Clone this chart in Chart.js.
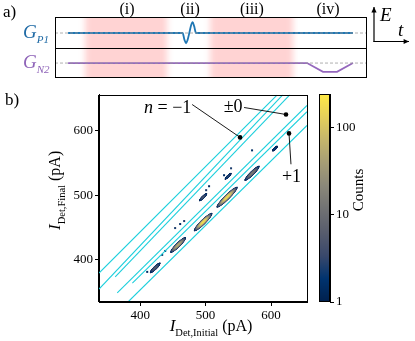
<!DOCTYPE html>
<html lang="en">
<head>
<meta charset="UTF-8">
<title>Detector current histogram</title>
<style>
    body { margin: 0; background: #fff; }
    #wrap { position: relative; width: 415px; height: 341px; overflow: hidden; }
    canvas { position: absolute; }
</style>
</head>
<body>
<div id="wrap">
    <canvas id="histChart" width="415" height="256" style="left:0;top:85px"></canvas>
    <canvas id="cbarChart" width="106" height="228" style="left:309px;top:84px"></canvas>
    <canvas id="pulseChart" width="415" height="88" style="left:0;top:0"></canvas>
</div>
<script src="https://cdn.jsdelivr.net/npm/chart.js"></script>
<script>
// ---- panel a: gate sequence (time in arbitrary units 0-100) ----
const stageLabels = ['(i)', '(ii)', '(iii)', '(iv)'];
const stageTimes = [23.1, 43.3, 63.1, 87.5];
const shadeStart = [9.6, 49.7];
const shadeEnd = [35.9, 76.3];
const gp1Time = [4.2, 40.9, 41.5, 42.0, 42.5, 43.05, 43.6, 44.1, 44.6, 45.2, 95.5];
const gp1Level = [1.475, 1.475, 1.25, 1.14, 1.25, 1.475, 1.72, 1.83, 1.7, 1.475, 1.475];
const gn2Time = [4.2, 80.8, 85.9, 90.4, 95.5];
const gn2Level = [0.49, 0.49, 0.2, 0.2, 0.49];
const gp1Rest = 1.475;
const gn2Rest = 0.49;

// ---- panel b: 2D histogram of detector current (pA) ----
const xTicks = [400, 500, 600];
const yTicks = [400, 500, 600];
const countTicks = [1, 10, 100];
const countMax = 245;
// clusters: centre, peak counts, half extent along diagonal and across (pA)
const clusterInitial = [422.9, 458.0, 496.2, 532.8, 571.0, 606.0, 496.2, 534.4];
const clusterFinal   = [387.7, 423.1, 458.5, 496.9, 533.8, 572.0, 496.9, 529.2];
const clusterPeak    = [6, 60, 220, 200, 15, 2, 5, 3];
const clusterLength  = [8, 12, 14, 16, 11.5, 4, 6, 5];
const clusterWidth   = [1.9, 2.4, 2.7, 2.7, 2.2, 1.4, 1.4, 1.3];
// isolated bins
const binInitial = [433.6, 438.2, 453.4, 461.1, 467.2, 500.8, 505.3, 528.2, 538.9, 571.0, 410.7];
const binFinal   = [407.7, 413.8, 449.2, 455.4, 460.0, 507.7, 513.8, 530.8, 541.5, 569.2, 381.5];
const binCount   = [2, 1, 2, 1, 2, 2, 1, 1, 2, 1, 1];
// region contours (initial, final)
const contourA = [[337, 379.6], [609.5, 655]];
const contourB = [[337, 355], [618.3, 655.4]];
const contourC = [[361.8, 373.8], [629, 655.4]];
const contourD = [[364.9, 349.2], [655, 638.5]];
const contourE = [[388, 364], [655, 629]];
const contourF = [[381.7, 335.4], [655, 607.7]];
// annotations: text centre, leader start, dot
const annText  = ['n', '±0', '+1'];
const annTextX = [442, 542, 631.3];
const annTextY = [635.4, 637, 529.2];
const annLeadX = [479.4, 558.8, 630.5];
const annLeadY = [640, 635.4, 547.7];
const annDotX  = [552.7, 622.9, 627.5];
const annDotY  = [589.2, 624.6, 595.4];

const SERIF = '"Liberation Serif", "DejaVu Serif", serif';
Chart.defaults.font.family = SERIF;
Chart.defaults.color = '#000';

const cividis = ['#00204d', '#00336f', '#39486b', '#575c6d', '#707173',
                 '#8a8779', '#a69d75', '#c4b56c', '#e4cf5b', '#ffea46'];

function hexRgb(h) {
    return [parseInt(h.slice(1, 3), 16), parseInt(h.slice(3, 5), 16), parseInt(h.slice(5, 7), 16)];
}

function countColour(c) {
    const t = Math.min(1, Math.max(0, Math.log10(c) / Math.log10(countMax)));
    const p = t * (cividis.length - 1);
    const i = Math.min(Math.floor(p), cividis.length - 2);
    const f = p - i;
    const a = hexRgb(cividis[i]), b = hexRgb(cividis[i + 1]);
    return 'rgb(' + a.map((v, k) => Math.round(v + (b[k] - v) * f)).join(',') + ')';
}

// draw a run of text pieces [text, font, dy]
function drawRich(ctx, parts, x, y, align) {
    let w = 0;
    parts.forEach(p => { ctx.font = p[1]; w += ctx.measureText(p[0]).width; });
    let cx = align === 'center' ? x - w / 2 : x;
    ctx.textAlign = 'left';
    ctx.textBaseline = 'alphabetic';
    parts.forEach(p => {
        ctx.font = p[1];
        ctx.fillText(p[0], cx, y + (p[2] || 0));
        cx += ctx.measureText(p[0]).width;
    });
}

function arrow(ctx, x0, y0, x1, y1) {
    const ang = Math.atan2(y1 - y0, x1 - x0);
    ctx.beginPath();
    ctx.moveTo(x0, y0);
    ctx.lineTo(x1, y1);
    ctx.stroke();
    ctx.beginPath();
    ctx.moveTo(x1, y1);
    ctx.lineTo(x1 - 6 * Math.cos(ang - 0.45), y1 - 6 * Math.sin(ang - 0.45));
    ctx.lineTo(x1 - 6 * Math.cos(ang + 0.45), y1 - 6 * Math.sin(ang + 0.45));
    ctx.closePath();
    ctx.fill();
}

// ---------- panel a ----------
const pulseDecor = {
    id: 'pulseDecor',
    beforeDatasetsDraw(chart) {
        const { ctx, chartArea: a, scales: { x } } = chart;
        ctx.save();
        ctx.beginPath();
        ctx.rect(a.left, a.top, a.right - a.left, a.bottom - a.top);
        ctx.clip();
        ctx.filter = 'blur(3px)';
        ctx.fillStyle = 'rgba(255, 150, 150, 0.42)';
        shadeStart.forEach((s, i) => {
            const x0 = x.getPixelForValue(s), x1 = x.getPixelForValue(shadeEnd[i]);
            ctx.fillRect(x0, a.top - 10, x1 - x0, a.bottom - a.top + 20);
        });
        ctx.restore();
    },
    afterDraw(chart) {
        const { ctx, chartArea: a, scales: { x, y } } = chart;
        ctx.save();
        ctx.strokeStyle = '#000';
        ctx.lineWidth = 1;
        ctx.strokeRect(a.left + 0.5, a.top + 0.5, a.right - a.left - 1, a.bottom - a.top - 1);
        const mid = Math.round(y.getPixelForValue(1)) + 0.5;
        ctx.beginPath();
        ctx.moveTo(a.left, mid);
        ctx.lineTo(a.right, mid);
        ctx.stroke();

        ctx.fillStyle = '#000';
        ctx.font = '16px ' + SERIF;
        ctx.textAlign = 'center';
        ctx.textBaseline = 'alphabetic';
        stageLabels.forEach((t, i) => ctx.fillText(t, x.getPixelForValue(stageTimes[i]), 14));

        ctx.font = '17px ' + SERIF;
        ctx.textAlign = 'left';
        ctx.fillText('a)', 3, 17);

        ctx.fillStyle = '#1f6aa5';
        drawRich(ctx, [['G', 'italic 19px ' + SERIF], ['P1', 'italic 11px ' + SERIF, 5]],
            23, y.getPixelForValue(gp1Rest) + 5, 'left');
        ctx.fillStyle = '#8e63b8';
        drawRich(ctx, [['G', 'italic 19px ' + SERIF], ['N2', 'italic 11px ' + SERIF, 5]],
            23, y.getPixelForValue(gn2Rest) + 5, 'left');

        ctx.strokeStyle = '#000';
        ctx.fillStyle = '#000';
        ctx.lineWidth = 1.2;
        arrow(ctx, 374, 42, 374, 7);
        arrow(ctx, 373.5, 41.5, 409, 41.5);
        ctx.font = 'italic 19px ' + SERIF;
        ctx.fillText('E', 380, 21);
        ctx.fillText('t', 398, 36);
        ctx.restore();
    }
};

new Chart(document.getElementById('pulseChart'), {
    type: 'scatter',
    data: {
        datasets: [
            { data: [{ x: 0, y: gp1Rest }, { x: 100, y: gp1Rest }], showLine: true, borderColor: '#9a9a9a',
              borderWidth: 0.8, borderDash: [3, 2], pointRadius: 0 },
            { data: [{ x: 0, y: gn2Rest }, { x: 100, y: gn2Rest }], showLine: true, borderColor: '#9a9a9a',
              borderWidth: 0.8, borderDash: [3, 2], pointRadius: 0 },
            { data: gp1Time.map((t, i) => ({ x: t, y: gp1Level[i] })), showLine: true, borderColor: '#1f77b4',
              borderWidth: 1.8, pointRadius: 0, cubicInterpolationMode: 'monotone' },
            { data: gn2Time.map((t, i) => ({ x: t, y: gn2Level[i] })), showLine: true, borderColor: '#9467bd',
              borderWidth: 1.8, pointRadius: 0 }
        ]
    },
    options: {
        responsive: false,
        animation: false,
        layout: { padding: { left: 55, right: 48, top: 17, bottom: 10 } },
        scales: {
            x: { display: false, min: 0, max: 100 },
            y: { display: false, min: 0, max: 2 }
        },
        plugins: { legend: { display: false }, tooltip: { enabled: false } }
    },
    plugins: [pulseDecor]
});

// ---------- panel b ----------
const histDecor = {
    id: 'histDecor',
    beforeDatasetsDraw(chart) {
        const { ctx, chartArea: a, scales: { x, y } } = chart;
        ctx.save();
        ctx.beginPath();
        ctx.rect(a.left, a.top, a.right - a.left, a.bottom - a.top);
        ctx.clip();
        clusterInitial.forEach((ci, i) => {
            const cx = x.getPixelForValue(ci), cy = y.getPixelForValue(clusterFinal[i]);
            const ex = x.getPixelForValue(ci + clusterLength[i]) - cx;
            const ey = y.getPixelForValue(clusterFinal[i] + clusterLength[i]) - cy;
            const wx = x.getPixelForValue(ci + clusterWidth[i]) - cx;
            const wy = y.getPixelForValue(clusterFinal[i] - clusterWidth[i]) - cy;
            const ang = Math.atan2(ey, ex);
            const ra = Math.hypot(ex, ey), rb = Math.hypot(wx, wy);
            const P = clusterPeak[i];
            const steps = 30;
            for (let k = 0; k < steps; k++) {
                const c = Math.pow(P, k / steps);
                const s = P > 1 ? Math.pow(Math.log(P / c) / Math.log(P), 0.5) : 1;
                ctx.fillStyle = countColour(c);
                ctx.beginPath();
                ctx.ellipse(cx, cy, Math.max(ra * s, 0.6), Math.max(rb * s, 0.5), ang, 0, Math.PI * 2);
                ctx.fill();
            }
        });
        binInitial.forEach((bi, i) => {
            const px = x.getPixelForValue(bi), py = y.getPixelForValue(binFinal[i]);
            ctx.fillStyle = countColour(binCount[i] + 0.5);
            ctx.fillRect(px - 1, py - 1, 2, 2);
        });
        ctx.restore();
    },
    afterDatasetsDraw(chart) {
        const { ctx, scales: { x, y } } = chart;
        ctx.save();
        ctx.strokeStyle = '#000';
        ctx.fillStyle = '#000';
        ctx.lineWidth = 0.9;
        annText.forEach((t, i) => {
            const lx = x.getPixelForValue(annLeadX[i]), ly = y.getPixelForValue(annLeadY[i]);
            const dx = x.getPixelForValue(annDotX[i]), dy = y.getPixelForValue(annDotY[i]);
            ctx.beginPath();
            ctx.moveTo(lx, ly);
            ctx.lineTo(dx, dy);
            ctx.stroke();
            ctx.beginPath();
            ctx.arc(dx, dy, 2.3, 0, Math.PI * 2);
            ctx.fill();
            const tx = x.getPixelForValue(annTextX[i]), ty = y.getPixelForValue(annTextY[i]) + 6;
            if (t === 'n') {
                drawRich(ctx, [['n', 'italic 18px ' + SERIF], [' = \u22121', '18px ' + SERIF]], tx, ty, 'center');
            } else {
                drawRich(ctx, [[t, '18px ' + SERIF]], tx, ty, 'center');
            }
        });
        ctx.restore();
    },
    afterDraw(chart) {
        const { ctx, chartArea: a } = chart;
        ctx.save();
        ctx.strokeStyle = '#000';
        ctx.lineWidth = 1;
        ctx.strokeRect(Math.round(a.left) - 0.5, Math.round(a.top) + 0.5,
            Math.round(a.right - a.left) + 1, Math.round(a.bottom - a.top) - 1);
        ctx.fillStyle = '#000';
        drawRich(ctx, [['I', 'italic 17px ' + SERIF], ['Det,Initial', '10.5px ' + SERIF, 5], [' (pA)', '16px ' + SERIF]],
            (a.left + a.right) / 2 + 8, a.bottom + 29, 'center');
        ctx.translate(60, (a.top + a.bottom) / 2 - 8);
        ctx.rotate(-Math.PI / 2);
        drawRich(ctx, [['I', 'italic 17px ' + SERIF], ['Det,Final', '10.5px ' + SERIF, 5], [' (pA)', '16px ' + SERIF]],
            0, 0, 'center');
        ctx.restore();
        ctx.save();
        ctx.fillStyle = '#000';
        ctx.font = '17px ' + SERIF;
        ctx.textAlign = 'left';
        ctx.fillText('b)', 5, 20);
        ctx.restore();
    }
};

const axisCommon = {
    type: 'linear',
    grid: { drawOnChartArea: false, tickLength: 4, color: '#000', tickColor: '#000' },
    border: { color: '#000', width: 1 },
    ticks: { font: { size: 13 }, color: '#000', padding: 2, maxRotation: 0 }
};

const contours = [contourA, contourB, contourC, contourD, contourE, contourF];

new Chart(document.getElementById('histChart'), {
    type: 'scatter',
    data: {
        datasets: contours.map(c => ({
            data: c.map(p => ({ x: p[0], y: p[1] })),
            showLine: true,
            borderColor: '#1ccfdc',
            borderWidth: 1.1,
            pointRadius: 0
        }))
    },
    options: {
        responsive: false,
        animation: false,
        layout: { padding: { left: 0, right: 108, top: 9, bottom: 0 } },
        scales: {
            x: Object.assign({}, axisCommon, {
                min: 337, max: 655,
                afterBuildTicks: s => { s.ticks = xTicks.map(v => ({ value: v })); },
                afterFit: s => { s.height = 39; }
            }),
            y: Object.assign({}, axisCommon, {
                min: 335, max: 655,
                afterBuildTicks: s => { s.ticks = yTicks.map(v => ({ value: v })); },
                afterFit: s => { s.width = 99; }
            })
        },
        plugins: { legend: { display: false }, tooltip: { enabled: false } }
    },
    plugins: [histDecor]
});

// ---------- colour bar ----------
const cbarDecor = {
    id: 'cbarDecor',
    beforeDatasetsDraw(chart) {
        const { ctx, chartArea: a } = chart;
        const g = ctx.createLinearGradient(0, a.bottom, 0, a.top);
        cividis.forEach((c, i) => g.addColorStop(i / (cividis.length - 1), c));
        ctx.save();
        ctx.fillStyle = g;
        ctx.fillRect(a.left, a.top, a.right - a.left, a.bottom - a.top);
        ctx.restore();
    },
    afterDraw(chart) {
        const { ctx, chartArea: a } = chart;
        ctx.save();
        ctx.strokeStyle = '#000';
        ctx.lineWidth = 1;
        ctx.strokeRect(Math.round(a.left) + 0.5, Math.round(a.top) + 0.5,
            Math.round(a.right - a.left) - 1, Math.round(a.bottom - a.top) - 1);
        ctx.fillStyle = '#000';
        ctx.font = '15px ' + SERIF;
        ctx.textAlign = 'center';
        ctx.textBaseline = 'middle';
        ctx.translate(50, 106);
        ctx.rotate(-Math.PI / 2);
        ctx.fillText('Counts', 0, 0);
        ctx.restore();
    }
};

new Chart(document.getElementById('cbarChart'), {
    type: 'scatter',
    data: { datasets: [] },
    options: {
        responsive: false,
        animation: false,
        layout: { padding: { left: 10, right: 0, top: 10, bottom: 10 } },
        scales: {
            x: { display: false, min: 0, max: 1 },
            y: {
                type: 'logarithmic',
                position: 'right',
                min: 1, max: countMax,
                afterBuildTicks: s => { s.ticks = countTicks.map(v => ({ value: v })); },
                afterFit: s => { s.width = 85; },
                grid: { drawOnChartArea: false, tickLength: 4, color: '#000', tickColor: '#000' },
                border: { color: '#000', width: 1 },
                ticks: { font: { size: 13 }, color: '#000', padding: 2, callback: v => String(v) }
            }
        },
        plugins: { legend: { display: false }, tooltip: { enabled: false } }
    },
    plugins: [cbarDecor]
});
</script>
</body>
</html>
